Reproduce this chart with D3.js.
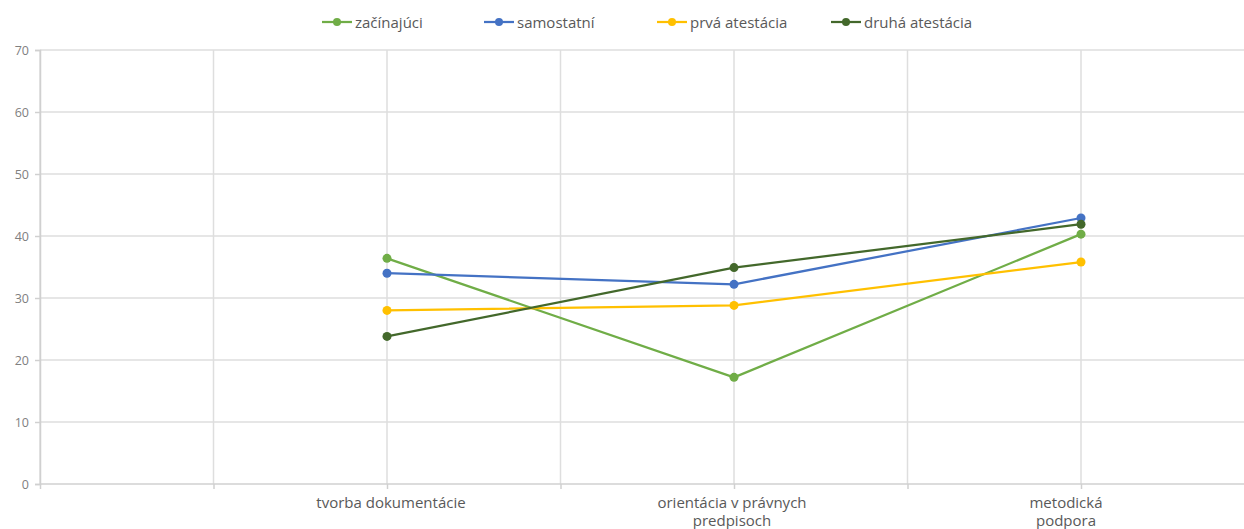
<!DOCTYPE html>
<html><head><meta charset="utf-8">
<script src="https://cdn.jsdelivr.net/npm/d3@7"></script>
<style>body{margin:0;background:#fff}svg{display:block}</style>
</head><body><svg id="c" width="1244" height="529"></svg>
<script>
const categories = ["", "", "tvorba dokumentácie", "", "orientácia v právnych predpisoch", "", "metodická podpora", ""];
const seriesNames = ["začínajúci", "samostatní", "prvá atestácia", "druhá atestácia"];
const seriesColors = ["#70AD47", "#4472C4", "#FFC000", "#43682B"];
const zacinajuci = [null, null, 36.4, null, 17.2, null, 40.3, null];
const samostatni = [null, null, 34.0, null, 32.2, null, 42.9, null];
const prvaAtestacia = [null, null, 28.0, null, 28.8, null, 35.8, null];
const druhaAtestacia = [null, null, 23.8, null, 34.9, null, 41.9, null];
const yTicks = [0, 10, 20, 30, 40, 50, 60, 70];
const seriesValues = [zacinajuci, samostatni, prvaAtestacia, druhaAtestacia];

(function () {
const svg = d3.select("#c");
const font = "'Open Sans', 'Liberation Sans', sans-serif";
const mLeft = 40, mTop = 50, mBottom = 484;
const step = 173.5;
const x = d3.scalePoint().domain(d3.range(categories.length)).range([mLeft, mLeft + step * (categories.length - 1)]);
const y = d3.scaleLinear().domain([0, 70]).range([mBottom, mTop]);

svg.append("g").selectAll("line").data(yTicks.filter(t => t > 0)).join("line")
  .attr("x1", mLeft).attr("x2", 1244).attr("y1", d => y(d)).attr("y2", d => y(d))
  .attr("stroke", "#dedede").attr("stroke-width", 1.5);
svg.append("g").selectAll("line").data(d3.range(categories.length)).join("line")
  .attr("x1", d => x(d)).attr("x2", d => x(d)).attr("y1", mTop).attr("y2", mBottom)
  .attr("stroke", "#dedede").attr("stroke-width", 1.5);

const yAxis = svg.append("g").attr("transform", `translate(${mLeft},0)`)
  .call(d3.axisLeft(y).tickValues(yTicks).tickSize(5).tickPadding(6));
yAxis.select(".domain").attr("stroke", "#d0d0d0").attr("stroke-width", 1.5);
yAxis.selectAll(".tick line").attr("stroke", "#d0d0d0").attr("stroke-width", 1.5);
yAxis.selectAll("text").attr("fill", "#808080").style("font-family", font).style("font-size", "12.5px");

const xAxis = svg.append("g").attr("transform", `translate(0,${mBottom})`)
  .call(d3.axisBottom(x).tickSize(5).tickFormat(""));
xAxis.select(".domain").attr("d", `M${mLeft},0H1244`).attr("stroke", "#d0d0d0").attr("stroke-width", 1.5);
xAxis.selectAll(".tick line").attr("stroke", "#d0d0d0").attr("stroke-width", 1.5);

const labelG = svg.append("g");
const wrapLines = s => {
  if (s === "metodická podpora") return ["metodická", "podpora"];
  if (s.length <= 20) return [s];
  const words = s.split(" "); const lines = []; let cur = "";
  words.forEach(w => { if ((cur + " " + w).trim().length > 22) { lines.push(cur); cur = w; } else cur = (cur + " " + w).trim(); });
  lines.push(cur); return lines;
};
const labelShift = i => (i === categories.length - 2 ? -15 : (i === 2 ? 4 : -2));
categories.forEach((c, i) => {
  if (!c) return;
  const cx = x(i) + labelShift(i);
  const t = labelG.append("text").attr("x", cx).attr("y", mBottom + 24)
    .attr("text-anchor", "middle").attr("fill", "#595959")
    .style("font-family", font).style("font-size", "15px");
  wrapLines(c).forEach((l, j) => t.append("tspan").attr("x", cx).attr("dy", j ? 18 : 0).text(l));
});

const line = d3.line().defined(d => d.v != null).x(d => x(d.i)).y(d => y(d.v));
seriesValues.forEach((vals, s) => {
  const pts = vals.map((v, i) => ({ v, i })).filter(d => d.v != null);
  svg.append("path").datum(pts).attr("d", line).attr("fill", "none")
    .attr("stroke", seriesColors[s]).attr("stroke-width", 2.25).attr("stroke-linejoin", "round");
  svg.append("g").selectAll("circle").data(pts).join("circle")
    .attr("cx", d => x(d.i)).attr("cy", d => y(d.v)).attr("r", 4.5)
    .attr("fill", seriesColors[s]);
});

const legendX = [322, 484, 657, 831];
const lg = svg.append("g");
seriesNames.forEach((n, i) => {
  const g = lg.append("g").attr("transform", `translate(${legendX[i]},22)`);
  g.append("line").attr("x1", 0).attr("x2", 30).attr("stroke", seriesColors[i]).attr("stroke-width", 2.25);
  g.append("circle").attr("cx", 15).attr("r", 4).attr("fill", seriesColors[i]);
  g.append("text").attr("x", 33).attr("y", 5.5).attr("fill", "#595959")
    .style("font-family", font).style("font-size", "15px").text(n);
});
})();
</script></body></html>
